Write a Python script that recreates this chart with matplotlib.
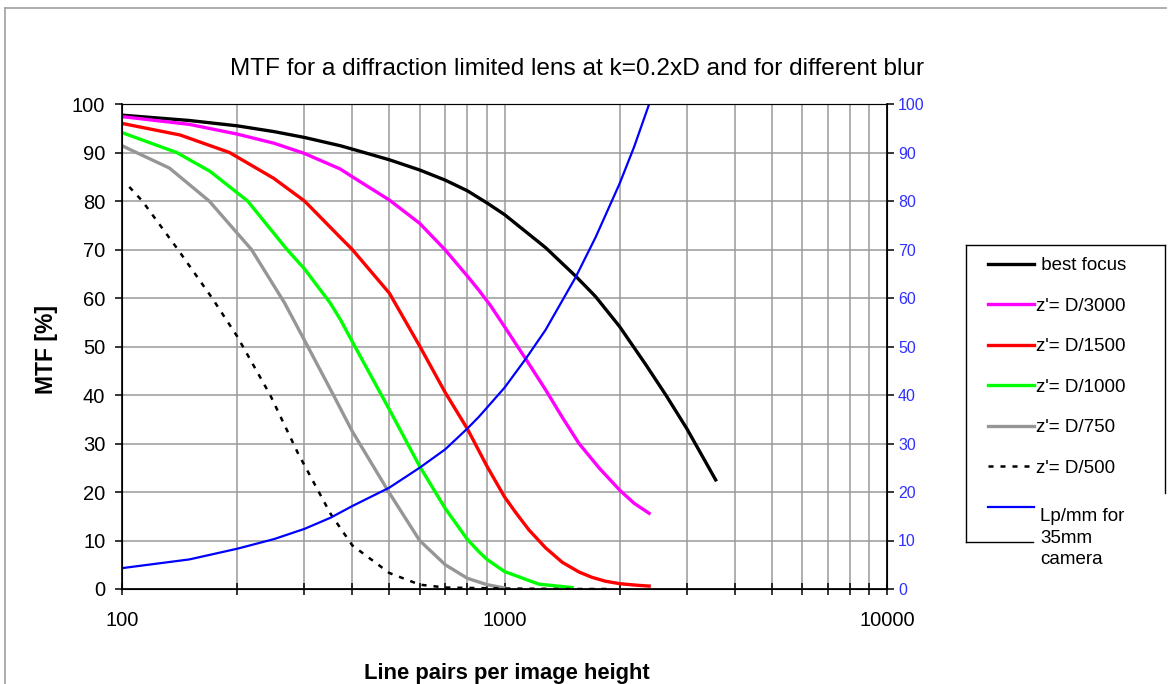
import matplotlib
matplotlib.use("Agg")
import matplotlib.pyplot as plt
from matplotlib.lines import Line2D
from matplotlib.ticker import FixedLocator, LogLocator, NullFormatter

plt.rcParams["font.family"] = ["Liberation Sans", "DejaVu Sans"]

# values
best_x = [100, 150, 200, 250, 300, 372, 400, 500, 600, 700, 800, 900, 1000, 1280, 1535, 1730, 2000, 2339, 2641, 3000, 3565]
best_y = [97.7, 96.6, 95.5, 94.3, 93.1, 91.4, 90.7, 88.5, 86.4, 84.3, 82.1, 79.6, 77.2, 70.4, 64.5, 60.3, 54.1, 46.3, 40.0, 33.0, 22.5]

z3000_x = [100, 150, 200, 250, 300, 372, 400, 500, 600, 700, 800, 857, 918, 1000, 1135, 1280, 1416, 1566, 1770, 2000, 2180, 2389]
z3000_y = [97.4, 95.8, 93.8, 91.9, 89.8, 86.6, 85.0, 80.2, 75.4, 69.9, 64.5, 61.6, 58.5, 54.1, 47.5, 41.1, 35.4, 30.0, 24.9, 20.4, 17.7, 15.6]

z1500_x = [100, 142, 191, 249, 300, 372, 400, 500, 600, 700, 800, 900, 1000, 1069, 1158, 1280, 1416, 1566, 1694, 1837, 2000, 2200, 2389]
z1500_y = [96.0, 93.6, 90.0, 84.7, 80.0, 72.5, 70.0, 61.0, 50.1, 40.5, 33.0, 25.3, 19.0, 15.8, 12.2, 8.5, 5.5, 3.5, 2.4, 1.6, 1.1, 0.8, 0.6]

z1000_x = [100, 139, 170, 213, 270, 300, 350, 372, 400, 500, 600, 700, 800, 857, 900, 1000, 1230, 1503]
z1000_y = [94.1, 90.0, 86.1, 80.0, 70.0, 66.0, 59.0, 55.6, 51.0, 37.0, 25.3, 16.6, 10.2, 7.7, 6.1, 3.6, 1.0, 0.3]

z750_x = [100, 109, 133, 169, 218, 266, 306, 357, 400, 500, 600, 700, 800, 900, 1000]
z750_y = [91.4, 90.0, 86.8, 80.0, 70.0, 59.0, 50.0, 40.0, 32.5, 19.8, 10.0, 5.0, 2.2, 0.9, 0.2]

z500_x = [104.5, 113, 140, 172, 200, 207, 244, 288, 351, 400, 500, 600, 700, 1000, 1500, 1900]
z500_y = [82.9, 80.0, 70.0, 60.0, 52.1, 50.0, 40.0, 28.1, 15.5, 9.0, 3.3, 0.9, 0.3, 0.1, 0.0, 0.0]

lpmm_x = [100, 150, 200, 250, 300, 351, 400, 500, 600, 700, 800, 857, 900, 1000, 1135, 1280, 1535, 1730, 2000, 2183, 2389]
lpmm_y = [4.3, 6.1, 8.3, 10.3, 12.4, 14.7, 17.1, 20.9, 25.0, 28.8, 33.1, 35.5, 37.4, 41.5, 47.4, 53.4, 64.3, 72.5, 83.6, 91.2, 100.0]

y_ticks = [0, 10, 20, 30, 40, 50, 60, 70, 80, 90, 100]
x_ticks = [100, 1000, 10000]
x_labels = ["100", "1000", "10000"]

W, H = 1168, 684
fig = plt.figure(figsize=(W / 100, H / 100), dpi=100)
ax = fig.add_axes([122 / W, 1 - 589 / H, 765 / W, 485 / H])


def fig_line(x0, y0, x1, y1, color, lw):
    # helper for frame lines given in pixel positions from the top-left corner
    fig.add_artist(Line2D([x0 / W, x1 / W], [1 - y0 / H, 1 - y1 / H], color=color, lw=lw))


# outer chart frame (top and left edges visible)
fig_line(5, 8, 5, H, "#a0a0a0", 1.2)
fig_line(5, 8, 1166, 8, "#a0a0a0", 1.2)

l1, = ax.plot(best_x, best_y, color="black", lw=2.4)
l2, = ax.plot(z3000_x, z3000_y, color="#ff00ff", lw=2.4)
l3, = ax.plot(z1500_x, z1500_y, color="#ff0000", lw=2.4)
l4, = ax.plot(z1000_x, z1000_y, color="#00ff00", lw=2.4)
l5, = ax.plot(z750_x, z750_y, color="#969696", lw=2.4)
l6, = ax.plot(z500_x, z500_y, color="black", lw=1.8, linestyle=(0, (2.0, 2.8)))

ax.set_xscale("log")
ax.set_xlim(100, 10000)
ax.set_ylim(0, 100)
ax.xaxis.set_major_locator(FixedLocator(x_ticks))
ax.set_xticklabels(x_labels)
ax.xaxis.set_minor_locator(LogLocator(base=10, subs=range(2, 10)))
ax.xaxis.set_minor_formatter(NullFormatter())
ax.set_yticks(y_ticks)

ax.grid(True, which="both", color="#9a9a9a", lw=1.1)
ax.set_axisbelow(True)
ax.tick_params(axis="x", which="both", direction="inout", length=8, width=1.1, labelsize=14.5, pad=12)
ax.tick_params(axis="y", direction="out", length=5, width=1.1, labelsize=14.5, pad=7)
for s in ["left", "bottom"]:
    ax.spines[s].set_linewidth(1.2)
ax.spines["top"].set_color("#505050")

ax2 = ax.twinx()
l7, = ax2.plot(lpmm_x, lpmm_y, color="#0000ff", lw=1.6)
ax2.set_ylim(0, 100)
ax2.set_yticks(y_ticks)
ax2.tick_params(axis="y", direction="out", length=5, width=1.1, labelsize=11.5, labelcolor="#3030ff", pad=3)
ax2.spines["right"].set_linewidth(1.2)

fig.text(577 / W, 1 - 69 / H, "MTF for a diffraction limited lens at k=0.2xD and for different blur",
         ha="center", va="center", fontsize=17.6)
fig.text(47 / W, 1 - 350 / H, "MTF [%]", rotation=90, ha="center", va="center",
         fontsize=16.5, fontweight="bold")
fig.text(507 / W, 1 - 673 / H, "Line pairs per image height", ha="center", va="center",
         fontsize=15.8, fontweight="bold")

# the blue entry gets a blank label; Excel writes its three-line text below the handle
labels = [" best focus", "z'= D/3000", "z'= D/1500", "z'= D/1000", "z'= D/750", "z'= D/500", " "]
leg = fig.legend(handles=[l1, l2, l3, l4, l5, l6, l7], labels=labels, loc="upper left",
                 bbox_to_anchor=(988 / W, 1 - 257 / H), fontsize=13.5, frameon=False,
                 handlelength=2.45, handletextpad=0.12, labelspacing=1.25,
                 borderpad=0, borderaxespad=0)
fig.text(1040 / W, 1 - 508 / H, "Lp/mm for\n35mm\ncamera", ha="left", va="top",
         fontsize=13.5, linespacing=1.35)

# legend frame as Excel clipped it
fig_line(966, 245, 1165, 245, "black", 1.0)
fig_line(966, 245, 966, 542, "black", 1.0)
fig_line(1165, 245, 1165, 493, "black", 1.0)
fig_line(966, 542, 1033, 542, "black", 1.0)

fig.savefig("out.png", dpi=100)
